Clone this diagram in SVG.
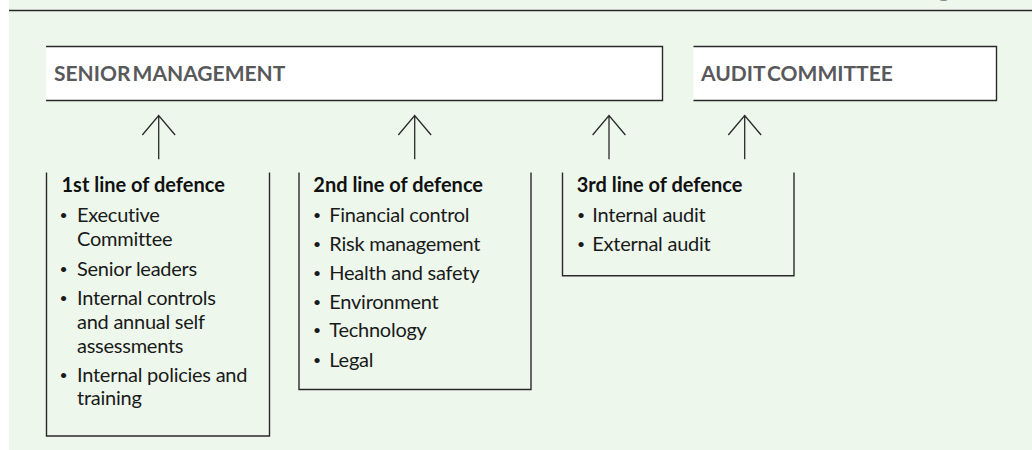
<svg xmlns="http://www.w3.org/2000/svg" width="1032" height="450" viewBox="0 0 1032 450">
<style>
.bg{fill:#edf7ec}
.rule{stroke:#2a2a2a;stroke-width:1.4;fill:none}
.box{fill:#ffffff}
.edge{stroke:#2a2a2a;stroke-width:1.4;fill:none}
.title{font-family:Lato,"Open Sans",sans-serif;font-weight:700;font-size:21px;fill:#58595b;word-spacing:-3px}
.head{font-family:Lato,"Open Sans",sans-serif;font-weight:700;font-size:20px;fill:#111111}
.item{font-family:Lato,"Open Sans",sans-serif;font-weight:400;font-size:20px;fill:#1a1a1a;letter-spacing:-0.25px}
.bul{font-family:Lato,"Open Sans",sans-serif;font-size:14px;fill:#1a1a1a;text-anchor:middle}
.arrow{stroke:#2a2a2a;stroke-width:1.3;fill:none}
.frag{font-family:Lato,sans-serif;font-size:22px;fill:#8a8a8a}
</style>
<rect class="bg" x="9" y="0" width="1023" height="450"/>
<text class="frag" x="938" y="-3">g</text>
<line class="rule" x1="9" y1="10.5" x2="1032" y2="10.5"/>

<g id="senior-management">
<rect class="box" x="46" y="46.5" width="616.5" height="54"/>
<path class="edge" d="M46,46.5 H662.5 V100.5 H46"/>
<text class="title" x="54" y="80.5">SENIOR MANAGEMENT</text>
</g>

<g id="audit-committee">
<rect class="box" x="693.5" y="46.5" width="303" height="54"/>
<path class="edge" d="M693.5,46.5 H996.5 V100.5 H693.5"/>
<text class="title" x="701" y="80.5">AUDIT COMMITTEE</text>
</g>

<g id="first-line">
<path class="edge" d="M46.5,172.5 V436 H269.5 V172.5"/>
<text class="head" x="61.5" y="191.8">1st line of defence</text>
<text class="bul" x="63.5" y="220">•</text>
<text class="bul" x="63.5" y="274">•</text>
<text class="bul" x="63.5" y="303">•</text>
<text class="bul" x="63.5" y="379.6">•</text>
<g class="item">
<text x="77" y="222">Executive</text>
<text x="77" y="246.2">Committee</text>
<text x="77" y="276">Senior leaders</text>
<text x="77" y="305">Internal controls</text>
<text x="77" y="328.8">and annual self</text>
<text x="77" y="352.6">assessments</text>
<text x="77" y="381.6">Internal policies and</text>
<text x="77" y="405.4">training</text>
</g>
</g>

<g id="second-line">
<path class="edge" d="M299,172.5 V389.5 H531 V172.5"/>
<text class="head" x="313.3" y="191.8">2nd line of defence</text>
<text class="bul" x="317" y="219.8">•</text>
<text class="bul" x="317" y="248.8">•</text>
<text class="bul" x="317" y="277.6">•</text>
<text class="bul" x="317" y="306.5">•</text>
<text class="bul" x="317" y="335.4">•</text>
<text class="bul" x="317" y="364.5">•</text>
<g class="item">
<text x="329.3" y="221.8">Financial control</text>
<text x="329.3" y="250.8">Risk management</text>
<text x="329.3" y="279.6">Health and safety</text>
<text x="329.3" y="308.5">Environment</text>
<text x="329.3" y="337.4">Technology</text>
<text x="329.3" y="366.5">Legal</text>
</g>
</g>

<g id="third-line">
<path class="edge" d="M562.5,172.5 V275.7 H794 V172.5"/>
<text class="head" x="576.7" y="191.8">3rd line of defence</text>
<text class="bul" x="581" y="219.8">•</text>
<text class="bul" x="581" y="248.8">•</text>
<g class="item">
<text x="592.3" y="221.8">Internal audit</text>
<text x="592.3" y="250.8">External audit</text>
</g>
</g>

<g id="connectors">
<path class="arrow" d="M158.7,159.3 V115.5 M142.3,135 L158.7,115.5 L175.1,135"/>
<path class="arrow" d="M414.7,159.3 V115.5 M398.3,135 L414.7,115.5 L431.1,135"/>
<path class="arrow" d="M609,159.3 V115.5 M592.6,135 L609,115.5 L625.4,135"/>
<path class="arrow" d="M744.7,159.3 V115.5 M728.3,135 L744.7,115.5 L761.1,135"/>
</g>
</svg>
